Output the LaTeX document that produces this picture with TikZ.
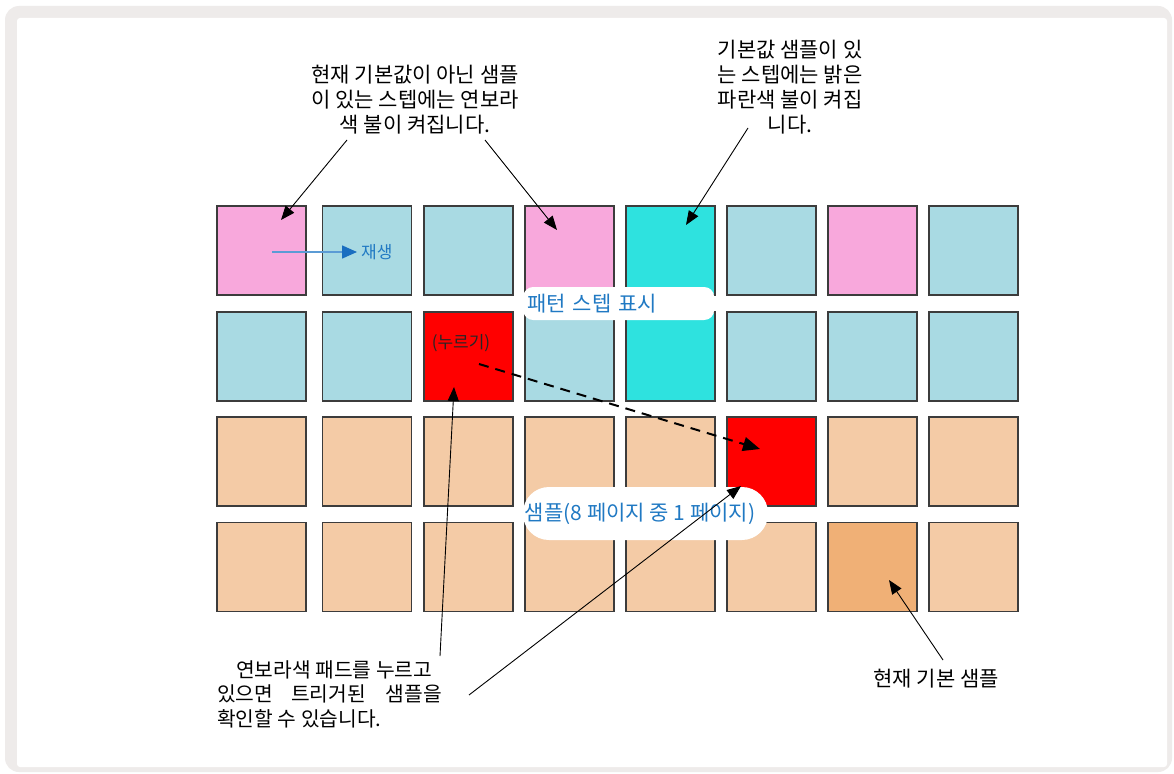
\documentclass[tikz,border=0pt]{standalone}
\usepackage{fontspec}
\setmainfont{Noto Sans CJK KR}
\usetikzlibrary{arrows.meta,calc}
\definecolor{framegray}{HTML}{EEEBEA}
\definecolor{padline}{HTML}{3C3C3C}
\definecolor{pk}{HTML}{F8A8DC}
\definecolor{lb}{HTML}{A9DAE3}
\definecolor{cy}{HTML}{2EE2DF}
\definecolor{rd}{HTML}{FF0000}
\definecolor{pc}{HTML}{F4CBA6}
\definecolor{og}{HTML}{F0B076}
\definecolor{lblblue}{HTML}{2079C3}
\definecolor{playline}{HTML}{5B9BD5}
\definecolor{playtip}{HTML}{1A6EC0}
\begin{document}
\begin{tikzpicture}[x=1pt,y=-1pt,
  pad/.style={draw=padline,line width=1.3pt,minimum width=89pt,minimum height=89pt,inner sep=0pt,outer sep=0pt},
  anno/.style={font=\fontsize{21}{25}\selectfont,text=black,align=center,inner sep=0pt},
  bluelbl/.style={font=\fontsize{21}{25}\selectfont,text=lblblue},
  small/.style={font=\fontsize{17}{20}\selectfont},
  arr/.style={draw=black,line width=0.9pt,-{Triangle[length=14pt,width=11pt]}},
  dasharr/.style={draw=black,line width=2pt,dash pattern=on 10pt off 7pt,-{Triangle[length=17pt,width=14pt]}},
  playarr/.style={draw=playline,line width=1.6pt,-{Triangle[length=15pt,width=13pt,color=playtip,fill=playtip]}}
]
\useasboundingbox (0,0) rectangle (1174,773);
\fill[white] (0,0) rectangle (1174,773);
\fill[framegray,rounded corners=14pt] (5,6) rectangle (1172,772);
\fill[white,rounded corners=3pt] (17,18) rectangle (1167,767);

% pads
\def\xs{{261.5,367,468.5,569.5,670.5,771.5,872.5,973.5}}
\foreach \r/\y/\cols in {1/250.5/{pk,lb,lb,pk,cy,lb,pk,lb},
                         2/356.5/{lb,lb,rd,lb,cy,lb,lb,lb},
                         3/461.5/{pc,pc,pc,pc,pc,rd,pc,pc},
                         4/567/{pc,pc,pc,pc,pc,pc,og,pc}}{
  \foreach \col [count=\c] in \cols {
    \pgfmathparse{\xs[\c-1]}\let\xx\pgfmathresult
    \node[pad,fill=\col] (p\r\c) at (\xx,\y) {};
  }
}

% labels over the pads
\node[bluelbl,fill=white,rounded corners=10pt,anchor=west,minimum height=33pt,text width=183pt,inner xsep=4pt,inner ysep=0pt,align=left] (lpat) at (523,303.5) {패턴 스텝 표시};
\node[bluelbl,fill=white,rounded corners=26pt,minimum height=53pt,minimum width=245pt,inner sep=0pt] (lsmp) at (645.5,513.5) {샘플(8 페이지 중 1 페이지)\kern11pt};
\node[small,text=lblblue,anchor=west,inner sep=0pt] (lplay) at (361,252) {재생};
\node[small,text=black!85,inner sep=0pt] (lpress) at (461,343) {(누르기)};

% annotations
\node[anno] (tl) at (415,100) {현재 기본값이 아닌 샘플\\이 있는 스텝에는 연보라\\색 불이 켜집니다.};
\node[anno] (tr) at (790,87) {기본값 샘플이 있\\는 스텝에는 밝은\\파란색 불이 켜집\\니다.};
\node[anno,font=\fontsize{20.3}{24.5}\selectfont,align=left,anchor=west] (bl) at (217,694) {\hspace*{19pt}연보라색 패드를 누르고\\있으면\hspace{18pt}트리거된\hspace{20pt}샘플을\\확인할 수 있습니다.};
\node[anno] (br) at (936,679) {현재 기본 샘플};

% connector end points
\coordinate (a1s) at (347,140);  \coordinate (a1e) at (281,220);
\coordinate (a2s) at (485,140);  \coordinate (a2e) at (557,230);
\coordinate (a3s) at (748,128);  \coordinate (a3e) at (686,225);
\coordinate (a4s) at (272,252);
\coordinate (a5s) at (479,364);  \coordinate (a5e) at (760,449);
\coordinate (a6s) at (440,656);  \coordinate (a6e) at (454,387);
\coordinate (a7s) at (469,695);  \coordinate (a7e) at (741,486);
\coordinate (a8s) at (943,660);  \coordinate (a8e) at (889,580);

\draw[arr] (a1s) -- (a1e);
\draw[arr] (a2s) -- (a2e);
\draw[arr] (a3s) -- (a3e);
\draw[playarr,shorten >=4pt] (a4s) -- (lplay.west);
\draw[dasharr] (a5s) -- (a5e);
\draw[arr] (a6s) -- (a6e);
\draw[arr] (a7s) -- (a7e);
\draw[arr] (a8s) -- (a8e);
\end{tikzpicture}
\end{document}
